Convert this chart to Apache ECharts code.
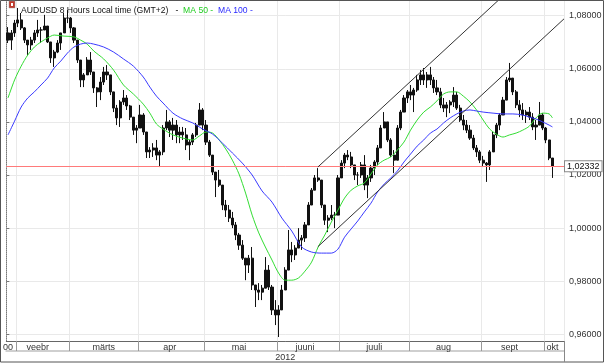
<!DOCTYPE html>
<html><head><meta charset="utf-8">
<script src="https://cdn.jsdelivr.net/npm/echarts@6/dist/echarts.min.js"></script>
<style>html,body{margin:0;padding:0;background:#fff}#c{width:605px;height:363px}</style>
</head><body><div id="c"></div>
<script>
// ---- data ----
const firstOpen = 1.0735;
const barHigh = [
1.0757,1.0746,1.0784,1.0829,1.0810,1.0757,1.0708,1.0720,1.0746,1.0784,
1.0757,1.0803,1.0757,1.0682,1.0671,1.0708,1.0735,1.0810,1.0821,1.0795,
1.0757,1.0708,1.0607,1.0584,1.0644,1.0663,1.0569,1.0531,1.0569,1.0607,
1.0614,1.0577,1.0501,1.0464,1.0482,1.0520,1.0501,1.0464,1.0418,1.0388,
1.0464,1.0433,1.0351,1.0305,1.0320,1.0332,1.0294,1.0388,1.0445,1.0407,
1.0415,1.0407,1.0381,1.0381,1.0377,1.0332,1.0358,1.0396,1.0471,1.0452,
1.0407,1.0332,1.0275,1.0200,1.0219,1.0151,1.0106,1.0087,1.0061,1.0023,
0.9982,0.9955,0.9887,0.9899,0.9929,0.9786,0.9793,0.9786,0.9891,0.9861,
0.9786,0.9729,0.9710,0.9786,0.9853,0.9993,0.9948,0.9936,1.0000,0.9974,
1.0023,1.0098,1.0151,1.0200,1.0226,1.0174,1.0076,1.0049,1.0087,1.0061,
1.0200,1.0256,1.0283,1.0294,1.0287,1.0238,1.0211,1.0249,1.0275,1.0200,
1.0238,1.0256,1.0313,1.0388,1.0437,1.0400,1.0339,1.0294,1.0388,1.0445,
1.0501,1.0520,1.0539,1.0528,1.0577,1.0595,1.0603,1.0588,1.0607,1.0569,
1.0558,1.0528,1.0490,1.0475,1.0482,1.0531,1.0513,1.0464,1.0426,1.0407,
1.0388,1.0351,1.0313,1.0294,1.0272,1.0249,1.0294,1.0362,1.0396,1.0433,
1.0494,1.0569,1.0622,1.0558,1.0520,1.0482,1.0471,1.0445,1.0456,1.0433,
1.0407,1.0475,1.0433,1.0381,1.0320,1.0256];
const barLow = [
1.0697,1.0671,1.0720,1.0757,1.0746,1.0697,1.0652,1.0671,1.0697,1.0720,
1.0697,1.0746,1.0697,1.0622,1.0607,1.0659,1.0671,1.0746,1.0772,1.0735,
1.0697,1.0622,1.0531,1.0531,1.0595,1.0577,1.0509,1.0456,1.0482,1.0539,
1.0558,1.0501,1.0437,1.0388,1.0381,1.0464,1.0445,1.0407,1.0351,1.0320,
1.0388,1.0351,1.0264,1.0264,1.0268,1.0256,1.0230,1.0275,1.0369,1.0343,
1.0332,1.0320,1.0320,1.0332,1.0294,1.0256,1.0313,1.0343,1.0388,1.0369,
1.0313,1.0268,1.0200,1.0117,1.0155,1.0068,1.0042,1.0023,1.0000,0.9955,
0.9918,0.9880,0.9804,0.9831,0.9767,0.9703,0.9729,0.9729,0.9816,0.9767,
0.9673,0.9635,0.9590,0.9692,0.9767,0.9899,0.9872,0.9880,0.9936,0.9918,
0.9948,1.0023,1.0087,1.0143,1.0174,1.0076,1.0012,0.9985,1.0030,1.0000,
1.0049,1.0200,1.0226,1.0256,1.0226,1.0181,1.0162,1.0189,1.0143,1.0113,
1.0174,1.0200,1.0238,1.0313,1.0388,1.0324,1.0268,1.0207,1.0264,1.0369,
1.0437,1.0471,1.0482,1.0437,1.0513,1.0539,1.0539,1.0528,1.0539,1.0509,
1.0501,1.0452,1.0437,1.0418,1.0433,1.0456,1.0445,1.0400,1.0369,1.0358,
1.0332,1.0294,1.0268,1.0245,1.0230,1.0174,1.0219,1.0294,1.0339,1.0369,
1.0437,1.0501,1.0550,1.0501,1.0452,1.0418,1.0407,1.0396,1.0407,1.0369,
1.0332,1.0396,1.0369,1.0320,1.0256,1.0189];
const barClose = [
1.0708,1.0735,1.0772,1.0784,1.0754,1.0708,1.0690,1.0708,1.0735,1.0746,
1.0746,1.0761,1.0701,1.0641,1.0663,1.0697,1.0735,1.0791,1.0791,1.0754,
1.0708,1.0633,1.0558,1.0577,1.0633,1.0588,1.0528,1.0513,1.0550,1.0588,
1.0577,1.0513,1.0452,1.0415,1.0475,1.0490,1.0460,1.0418,1.0369,1.0377,
1.0426,1.0362,1.0287,1.0294,1.0302,1.0275,1.0287,1.0377,1.0400,1.0369,
1.0388,1.0351,1.0362,1.0351,1.0313,1.0324,1.0351,1.0388,1.0445,1.0388,
1.0324,1.0275,1.0211,1.0181,1.0162,1.0087,1.0068,1.0038,1.0012,0.9974,
0.9936,0.9887,0.9861,0.9887,0.9786,0.9767,0.9759,0.9774,0.9842,0.9778,
0.9692,0.9673,0.9692,0.9767,0.9842,0.9918,0.9899,0.9925,0.9955,0.9963,
1.0012,1.0087,1.0143,1.0189,1.0181,1.0087,1.0030,1.0038,1.0049,1.0049,
1.0189,1.0245,1.0275,1.0268,1.0238,1.0200,1.0200,1.0238,1.0162,1.0189,
1.0226,1.0249,1.0302,1.0377,1.0400,1.0332,1.0275,1.0256,1.0377,1.0437,
1.0490,1.0513,1.0501,1.0520,1.0558,1.0577,1.0558,1.0577,1.0558,1.0528,
1.0513,1.0464,1.0452,1.0464,1.0475,1.0501,1.0452,1.0407,1.0388,1.0369,
1.0339,1.0302,1.0287,1.0256,1.0245,1.0238,1.0287,1.0351,1.0388,1.0426,
1.0482,1.0558,1.0565,1.0513,1.0464,1.0445,1.0426,1.0437,1.0418,1.0381,
1.0388,1.0426,1.0377,1.0332,1.0264,1.0234];
const ma50 = [
[0,1.0490],[2,1.0558],[4,1.0610],[6,1.0652],[8,1.0682],[10,1.0701],[12,1.0716],[14,1.0727],
[17,1.0723],[20,1.0720],[22,1.0708],[24,1.0693],[26,1.0667],[29,1.0637],[32,1.0595],[35,1.0539],
[38,1.0505],[41,1.0467],[43,1.0433],[45,1.0392],[47,1.0373],[50,1.0351],[53,1.0339],[56,1.0332],
[58,1.0347],[60,1.0362],[62,1.0358],[64,1.0332],[66,1.0298],[68,1.0256],[70,1.0204],[72,1.0132],
[74,1.0049],[76,0.9982],[78,0.9929],[80,0.9880],[82,0.9831],[84,0.9804],[86,0.9804],[88,0.9812],
[90,0.9838],[92,0.9872],[94,0.9929],[96,0.9974],[98,1.0023],[100,1.0068],[102,1.0113],[104,1.0143],
[106,1.0159],[108,1.0170],[110,1.0204],[112,1.0238],[114,1.0256],[116,1.0268],[118,1.0294],[120,1.0324],
[122,1.0369],[124,1.0407],[126,1.0437],[128,1.0456],[130,1.0479],[132,1.0505],[134,1.0513],[136,1.0513],
[138,1.0497],[140,1.0475],[142,1.0445],[144,1.0407],[146,1.0373],[148,1.0354],[150,1.0343],[152,1.0351],
[154,1.0358],[156,1.0369],[158,1.0384],[160,1.0415],[162,1.0433],[164,1.0430],[165,1.0415]];
const ma100 = [
[0,1.0351],[2,1.0403],[4,1.0456],[6,1.0490],[8,1.0513],[10,1.0539],[12,1.0565],[14,1.0603],
[16,1.0629],[18,1.0659],[20,1.0682],[22,1.0693],[24,1.0697],[26,1.0693],[29,1.0682],[32,1.0663],
[35,1.0637],[38,1.0610],[41,1.0569],[43,1.0531],[45,1.0497],[47,1.0471],[50,1.0433],[53,1.0411],
[56,1.0396],[59,1.0373],[62,1.0354],[65,1.0320],[68,1.0283],[71,1.0245],[74,1.0200],[77,1.0140],
[80,1.0098],[83,1.0038],[86,0.9989],[89,0.9929],[92,0.9910],[95,0.9906],[98,0.9906],[100,0.9921],
[102,0.9966],[104,0.9997],[106,1.0027],[108,1.0061],[110,1.0094],[112,1.0136],[114,1.0166],[116,1.0189],
[118,1.0215],[120,1.0249],[122,1.0279],[124,1.0309],[126,1.0332],[128,1.0358],[130,1.0373],[132,1.0396],
[134,1.0415],[136,1.0430],[138,1.0441],[140,1.0445],[142,1.0441],[144,1.0437],[147,1.0433],[150,1.0430],
[153,1.0430],[156,1.0426],[158,1.0418],[160,1.0411],[162,1.0400],[164,1.0388],[165,1.0381]];
const channelUpper = [[94.4,1.0230],[149.2,1.0859]];
const channelLower = [[94.4,0.9930],[169,1.0788]];
const lastPrice = 1.02332;
const monthNames = ['00','veebr','märts','apr','mai','juuni','juuli','aug','sept','okt'];
const monthStart = [0,3,19,40,60,82,101,122,144,163];
const monthLabelIdx = [0,9,29,49,70,90,111,132,152,165];
const yearLabel = ['2012'];
const totalSlots = 169;
const yMin = 0.9575, yMax = 1.0859;

// ---- build ----
const categories = [];
for (let i = 0; i < totalSlots; i++) {
  let m = 0;
  for (let k = 0; k < monthStart.length; k++) if (monthStart[k] <= i) m = k;
  categories.push(monthNames[m]);
}
const candles = barClose.map((c, i) => [i === 0 ? firstOpen : barClose[i - 1], c, barLow[i], barHigh[i]]);
const fmt = v => v.toFixed(5).replace('.', ',');
const FONT = 'Liberation Sans, Arial, sans-serif';
const isMonthStart = i => i > 0 && monthStart.indexOf(i) >= 0;
const RED = '#ff7a7a';
const TFS = 8.6;

const chart = echarts.init(document.getElementById('c'), null, {renderer: 'canvas'});
chart.setOption({
  animation: false,
  backgroundColor: '#fff',
  textStyle: {fontFamily: FONT},
  title: {
    left: 16, top: 1,
    text: '{a|AUDUSD 8 Hours Local time (GMT+2)}{a|   -  }{g|MA 50 -}{a|  }{u|MA 100 -}',
    textStyle: {fontWeight: 'normal', rich: {
      a: {fontSize: TFS, color: '#111', fontFamily: FONT, fontWeight: 'normal'},
      g: {fontSize: TFS, color: '#22cc22', fontFamily: FONT, fontWeight: 'normal'},
      u: {fontSize: TFS, color: '#2a2aff', fontFamily: FONT, fontWeight: 'normal'}
    }}
  },
  grid: {left: 0, right: 41, top: 0, bottom: 22, containLabel: false},
  xAxis: [{
    type: 'category', data: categories, boundaryGap: true,
    axisLine: {lineStyle: {color: '#666', width: 1}},
    axisTick: {show: true, length: 10, interval: (i) => isMonthStart(i), lineStyle: {color: '#999'}},
    axisLabel: {
      interval: (i) => monthLabelIdx.indexOf(i) >= 0,
      formatter: (v, i) => monthNames[monthLabelIdx.indexOf(i)] || '',
      fontSize: 9, color: '#333', margin: 2, fontFamily: FONT
    },
    splitLine: {show: true, interval: (i) => isMonthStart(i), lineStyle: {color: '#e9e9e9'}}
  }, {
    type: 'category', data: yearLabel, position: 'bottom', offset: 10,
    axisLine: {lineStyle: {color: '#cfcfcf', width: 2}},
    axisTick: {show: false},
    axisLabel: {fontSize: 9, color: '#333', margin: 2, fontFamily: FONT},
    splitLine: {show: false}
  }, {
    type: 'value', min: 0, max: totalSlots, show: false
  }],
  yAxis: {
    type: 'value', position: 'right', min: yMin, max: yMax, splitNumber: 6,
    axisLine: {show: true, lineStyle: {color: '#777', type: 'dotted'}},
    axisTick: {show: true, length: 3, lineStyle: {color: '#777'}},
    axisLabel: {formatter: fmt, fontSize: 9, color: '#333', margin: 5, showMinLabel: false, showMaxLabel: false, fontFamily: FONT},
    splitLine: {show: true, lineStyle: {color: '#e9e9e9'}}
  },
  series: [{
    type: 'candlestick', data: candles, barWidth: 2.6,
    itemStyle: {color: '#111', color0: '#111', borderColor: '#111', borderColor0: '#111', borderWidth: 1},
    markLine: {
      silent: true, symbol: 'none', animation: false, precision: 5,
      data: [{yAxis: lastPrice, lineStyle: {color: RED, width: 1, type: 'solid'}}],
      lineStyle: {color: RED, type: 'solid', width: 1},
      itemStyle: {color: RED},
      label: {position: 'end', distance: 1, formatter: () => fmt(lastPrice), fontSize: 9, color: '#111',
        backgroundColor: '#fff', borderColor: '#888', borderWidth: 1, padding: [1, 2, 0, 2], fontFamily: FONT}
    },
    z: 3
  }, {
    type: 'line', data: ma50, symbol: 'none', smooth: 0.3, xAxisIndex: 0,
    lineStyle: {color: '#33dd33', width: 1}, z: 4
  }, {
    type: 'line', data: ma100, symbol: 'none', smooth: 0.3, xAxisIndex: 0,
    lineStyle: {color: '#3a3aff', width: 1}, z: 4
  }, {
    type: 'line', data: channelUpper, symbol: 'none', xAxisIndex: 2,
    lineStyle: {color: '#333', width: 1}, z: 5
  }, {
    type: 'line', data: channelLower, symbol: 'none', xAxisIndex: 2,
    lineStyle: {color: '#333', width: 1}, z: 5
  }],
  graphic: [
    {type: 'rect', shape: {x: 0.5, y: 0.5, width: 603, height: 361.5}, style: {fill: 'none', stroke: '#555', lineWidth: 1}, z: 10, silent: true},
    {type: 'line', shape: {x1: 564.5, y1: 341, x2: 564.5, y2: 362}, style: {stroke: '#888', lineWidth: 1}, z: 10, silent: true},
    {type: 'rect', shape: {x: 9, y: 1, width: 6, height: 7}, style: {fill: '#c0392b', stroke: '#999', lineWidth: 0.5}, z: 10, silent: true},
    {type: 'rect', shape: {x: 11, y: 3, width: 2, height: 3}, style: {fill: '#fff'}, z: 11, silent: true}
  ]
});
</script></body></html>
